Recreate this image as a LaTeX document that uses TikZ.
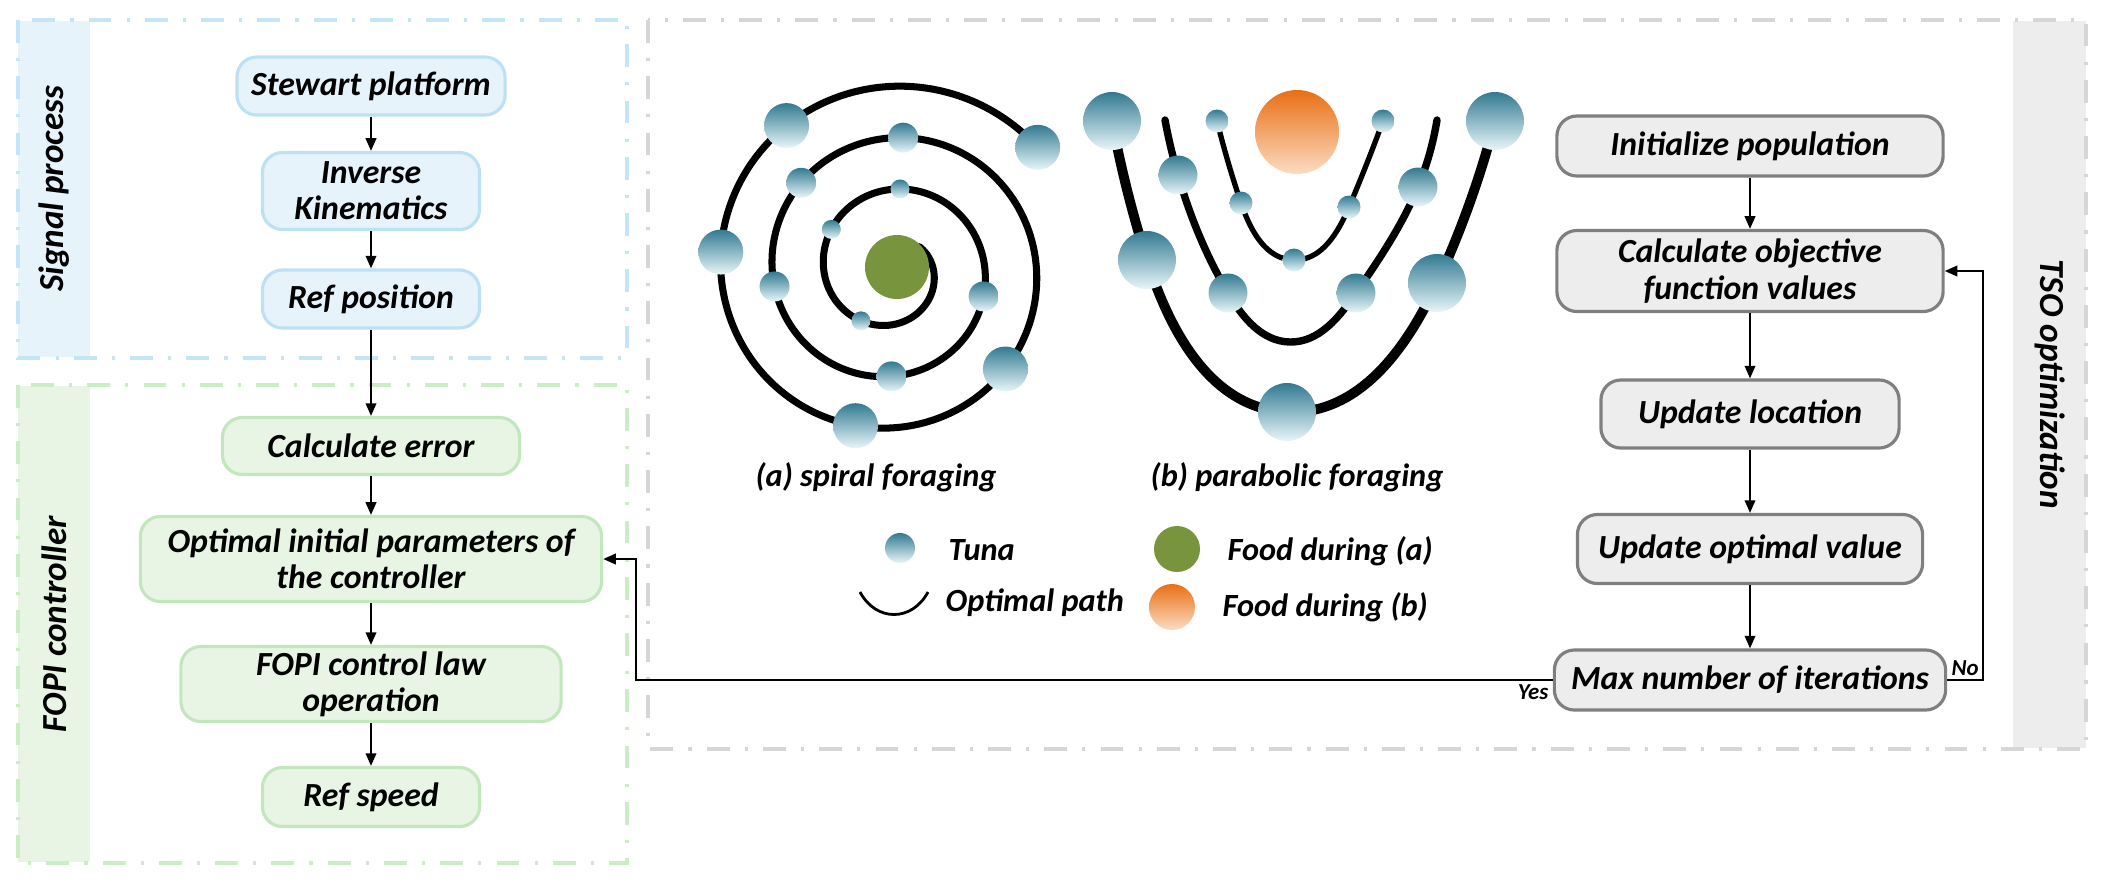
\documentclass[tikz,border=0pt]{standalone}
\usepackage{fontspec}
\setmainfont{Carlito}
\usetikzlibrary{
  arrows.meta,
  hobby,
}

\definecolor{sigline}{HTML}{BDE1F4}
\definecolor{sigfill}{HTML}{E6F3FB}
\definecolor{sigdash}{HTML}{C4E5F6}
\definecolor{fopiline}{HTML}{C2E7BC}
\definecolor{fopifill}{HTML}{E8F5E5}
\definecolor{fopidash}{HTML}{CBEDC6}
\definecolor{tsoline}{HTML}{7F7F7F}
\definecolor{tsofill}{HTML}{EDEDED}
\definecolor{tsodash}{HTML}{D6D6D6}
\definecolor{tunatop}{HTML}{327A91}
\definecolor{tunabot}{HTML}{E8F6FA}
\definecolor{foodgreen}{HTML}{78953D}
\definecolor{foodtop}{HTML}{E96F14}
\definecolor{foodbot}{HTML}{FCDCC2}

\tikzset{
  txt/.style={font=\fontsize{9.6}{10.3}\selectfont\bfseries\itshape},
  box/.style={txt, rounded corners=0.2cm, line width=0.9pt, align=center, inner sep=0pt},
  sigbox/.style={box, draw=sigline, fill=sigfill},
  fopibox/.style={box, draw=fopiline, fill=fopifill},
  tsobox/.style={box, draw=tsoline, fill=tsofill},
  flow/.style={-{Triangle[length=3.6pt,width=3pt]}, line width=0.6pt},
  panel/.style={line width=0.9pt, dash pattern=on 6.5pt off 4.3pt on 0.9pt off 4.3pt},
  side/.style={font=\fontsize{10}{12}\selectfont\bfseries\itshape},
  legend/.style={font=\fontsize{9.2}{11}\selectfont\bfseries\itshape, inner sep=0pt},
  lab/.style={font=\fontsize{6.5}{7}\selectfont\bfseries\itshape, inner sep=1pt},
  tuna/.style={top color=tunatop, bottom color=tunabot},
  food/.style={top color=foodtop, bottom color=foodbot},
  track/.style={line cap=round, line join=round},
}

\begin{document}
\begin{tikzpicture}[x=0.01cm, y=-0.01cm]
\useasboundingbox (0,0) rectangle (2103,884);

% panels
\fill[sigfill] (18,21) rectangle (90,357);
\draw[panel, sigdash] (18,20) rectangle (627,358);
\node[side, rotate=90] (sigtitle) at (54,189) {Signal process};
\fill[fopifill] (18,386) rectangle (90,862);
\draw[panel, fopidash] (18,385) rectangle (627,863);
\node[side, rotate=90] (fopititle) at (54,624) {FOPI controller};
\fill[tsofill] (2013,21) rectangle (2086,748);
\draw[panel, tsodash] (648,20) rectangle (2086,749);
\node[side, rotate=-90] (tsotitle) at (2050,384) {TSO optimization};

% left column
\node[sigbox, minimum width=2.68cm, minimum height=0.58cm] (stewart) at (371,86) {Stewart platform};
\node[sigbox, minimum width=2.17cm, minimum height=0.77cm] (inverse) at (371,191) {Inverse\\Kinematics};
\node[sigbox, minimum width=2.17cm, minimum height=0.58cm] (refpos) at (371,299) {Ref position};
\node[fopibox, minimum width=2.97cm, minimum height=0.57cm] (error) at (371,446) {Calculate error};
\node[fopibox, minimum width=4.61cm, minimum height=0.85cm] (optimal) at (371,559) {Optimal initial parameters of\\the controller};
\node[fopibox, minimum width=3.80cm, minimum height=0.75cm] (fopi) at (371,684) {FOPI control law\\operation};
\node[fopibox, minimum width=2.17cm, minimum height=0.59cm] (refspeed) at (371,797) {Ref speed};

\draw[flow] (stewart) -- (inverse);
\draw[flow] (inverse) -- (refpos);
\draw[flow] (refpos) -- (error);
\draw[flow] (error) -- (optimal);
\draw[flow] (optimal) -- (fopi);
\draw[flow] (fopi) -- (refspeed);

% TSO column
\node[tsobox, minimum width=3.86cm, minimum height=0.60cm] (init) at (1750,146) {Initialize population};
\node[tsobox, minimum width=3.86cm, minimum height=0.81cm] (objective) at (1750,271) {Calculate objective\\function values};
\node[tsobox, minimum width=2.98cm, minimum height=0.68cm] (location) at (1750,414) {Update location};
\node[tsobox, minimum width=3.45cm, minimum height=0.69cm] (optval) at (1750,549) {Update optimal value};
\node[tsobox, minimum width=3.91cm, minimum height=0.60cm] (maxit) at (1750,680) {Max number of iterations};

\draw[flow] (init) -- (objective);
\draw[flow] (objective) -- (location);
\draw[flow] (location) -- (optval);
\draw[flow] (optval) -- (maxit);

\coordinate (nobend) at (1983,680);
\coordinate (yesbend) at (636,680);
\draw[flow] (maxit.east) -- node[lab, above] {No} (nobend) |- (objective.east);
\draw[flow] (maxit.west) node[lab, below left] {Yes} -- (yesbend) |- (optimal.east);

% spiral foraging
\begin{scope}[shift={(891.5,270)}]
\draw[track, line width=2pt] plot[domain=-40:1040, samples=260, smooth] (\x:{42+0.1431*\x});
\foreach \a/\r in {121/9.5, 214/9.5, 276/9.5, 376/15, 450/15, 532/15, 584/15, 635/15,
                   761/22.5, 823/22.5, 906/22.5, 954/22.5, 1040/22.5}
  \shade[tuna] (\a:{42+0.1431*\a}) circle[radius=\r];
\end{scope}
\fill[foodgreen] (897,267) circle[radius=32];
\node[legend] (capa) at (876,477) {(a) spiral foraging};

% parabolic foraging
\path (1112,121) coordinate (po1) (1147,260) coordinate (po2) (1287,412) coordinate (po3)
      (1437,283) coordinate (po4) (1495,121) coordinate (po5);
\path (1165,120) coordinate (pm0) (1178,175) coordinate (pm1) (1228,293) coordinate (pm2)
      (1290,342) coordinate (pm3) (1356,293) coordinate (pm4) (1418,187) coordinate (pm5)
      (1437,120) coordinate (pm6);
\path (1217,121) coordinate (pi1) (1241,203) coordinate (pi2) (1294,260) coordinate (pi3)
      (1349,207) coordinate (pi4) (1383,121) coordinate (pi5);
\draw[track, line width=2.8pt, use Hobby shortcut] (po1) .. (po2) .. (po3) .. (po4) .. (po5);
\draw[track, line width=2.1pt, use Hobby shortcut] (pm0) .. (pm1) .. (pm2) .. (pm3) .. (pm4) .. (pm5) .. (pm6);
\draw[track, line width=1.5pt, use Hobby shortcut] (pi1) .. (pi2) .. (pi3) .. (pi4) .. (pi5);
\foreach \c in {po1,po2,po3,po4,po5} \shade[tuna] (\c) circle[radius=29];
\foreach \c in {pm1,pm2,pm4,pm5} \shade[tuna] (\c) circle[radius=19.5];
\foreach \c in {pi1,pi2,pi3,pi4,pi5} \shade[tuna] (\c) circle[radius=11.5];
\shade[food] (1297,132) circle[radius=42];
\node[legend] (capb) at (1297,477) {(b) parabolic foraging};

% legend
\shade[tuna] (900,548) circle[radius=15];
\node[legend, anchor=west] (tunatxt) at (948,550) {Tuna};
\draw[line width=0.8pt] (860,592) .. controls (876,622) and (912,622) .. (928,592);
\node[legend, anchor=west] (pathtxt) at (945,603) {Optimal path};
\fill[foodgreen] (1177,549) circle[radius=23];
\node[legend, anchor=west] (foodatxt) at (1227,551) {Food during (a)};
\shade[food] (1172,607) circle[radius=23];
\node[legend, anchor=west] (foodbtxt) at (1222,607) {Food during (b)};
\end{tikzpicture}
\end{document}
